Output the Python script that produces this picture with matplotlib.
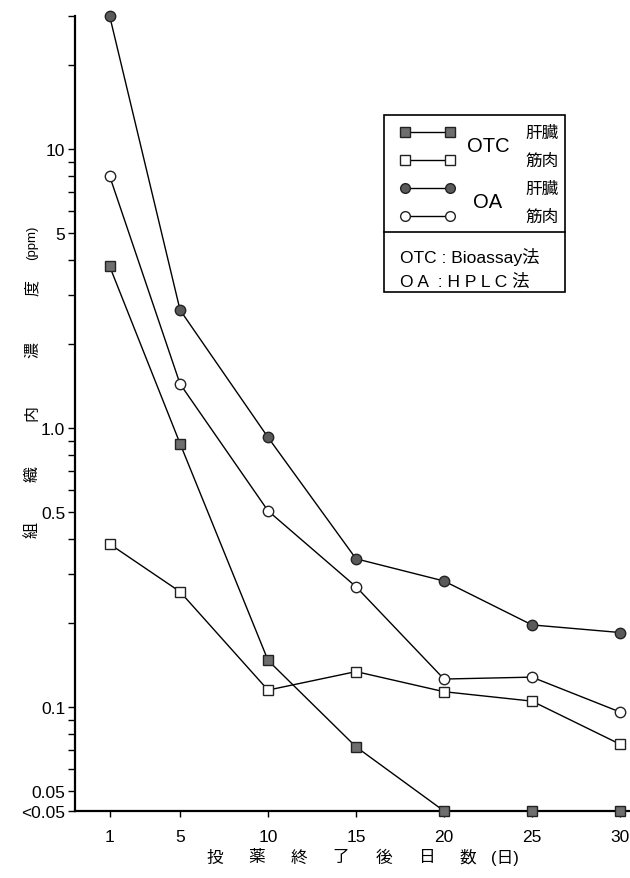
import numpy as np
import matplotlib
matplotlib.use('Agg')
import matplotlib.pyplot as plt
from matplotlib.lines import Line2D
from matplotlib.patches import Rectangle

plt.rcParams['font.family'] = ['Liberation Sans', 'Noto Sans CJK JP', 'DejaVu Sans']

# datos (ppm); "<0.05" se dibuja sobre el eje inferior
LT005 = 0.0424
days = [1, 5, 10, 15, 20, 25, 30]
otc_liver = [3.8, 0.88, 0.147, 0.072, LT005, LT005, LT005]
otc_muscle = [0.384, 0.259, 0.115, 0.134, 0.1135, 0.105, 0.0736]
oa_liver = [30.0, 2.65, 0.926, 0.34, 0.283, 0.197, 0.185]
oa_muscle = [8.0, 1.44, 0.505, 0.27, 0.126, 0.128, 0.096]

ytick_vals = [10, 5, 1.0, 0.5, 0.1, 0.05]
ytick_txt = ['10', '5', '1.0', '0.5', '0.1', '0.05']
xtick_txt = ['1', '5', '10', '15', '20', '25', '30']

W, H = 630, 879
fig = plt.figure(figsize=(6.3, 8.79), dpi=100)
ax = fig.add_axes([75 / W, 1 - 812 / H, (630 - 75) / W, (812 - 17) / H])

ax.set_yscale('log')
ax.set_ylim(LT005, 30)
ax.set_xlim(-0.97, 30.57)

fc_circ = '#5a5a5a'
fc_sq = '#6e6e6e'
ms = 7.5
kw = dict(color='black', lw=1.0, ms=ms, mew=1.0, mec='#222222', clip_on=False)
ax.plot(days, oa_liver, marker='o', mfc=fc_circ, zorder=3, **kw)
ax.plot(days, oa_muscle, marker='o', mfc='white', zorder=3, **kw)
ax.plot(days, otc_liver, marker='s', mfc=fc_sq, zorder=3, **kw)
ax.plot(days, otc_muscle, marker='s', mfc='white', zorder=3, **kw)

# ejes
for s in ['top', 'right']:
    ax.spines[s].set_visible(False)
for s in ['left', 'bottom']:
    ax.spines[s].set_linewidth(1.6)

minor = []
for dec in [0.01, 0.1, 1, 10]:
    for k in range(1, 10):
        v = k * dec
        if LT005 < v <= 30:
            minor.append(v)
allt = sorted(set(minor))
labels = []
for v in allt:
    lab = ''
    for tv, tt in zip(ytick_vals, ytick_txt):
        if abs(v - tv) < 1e-9:
            lab = tt
    labels.append(lab)
ax.yaxis.set_minor_locator(matplotlib.ticker.NullLocator())
ax.set_yticks(allt + [LT005])
ax.set_yticklabels(labels + ['<0.05'])
ax.tick_params(axis='y', direction='out', length=5, width=1.0, labelsize=12.5, pad=2)
ax.set_xticks(days)
ax.set_xticklabels(xtick_txt)
ax.tick_params(axis='x', direction='out', length=4, width=1.0, labelsize=12.5, pad=9)

# etiquetas de los ejes (caracteres espaciados)
ychars = ['組', '織', '内', '濃', '度', '(ppm)']
ypos = [530, 474, 413, 350, 288, 243]
for c, yp in zip(ychars, ypos):
    fig.text(32 / W, 1 - yp / H, c, rotation=90, ha='center', va='center',
             fontsize=11.5 if c != '(ppm)' else 9.5)

xchars = ['投', '薬', '終', '了', '後', '日', '数', '(日)']
xpos = [215, 257, 299, 341, 384, 426, 468, 505]
for c, xp in zip(xchars, xpos):
    fig.text(xp / W, 1 - 858 / H, c, ha='center', va='center', fontsize=12)

# leyenda dibujada a mano
def fx(x):
    return x / W

def fy(y):
    return 1 - y / H

fig.patches.append(Rectangle((fx(384), fy(293)), fx(565) - fx(384), fy(116) - fy(293),
                             transform=fig.transFigure, fill=False, lw=1.2,
                             ec='black', figure=fig))
fig.lines.append(Line2D([fx(384), fx(565)], [fy(233), fy(233)],
                        transform=fig.transFigure, color='black', lw=1.2))

rows = [(133, 's', fc_sq), (161, 's', 'white'), (189, 'o', fc_circ), (217, 'o', 'white')]
for ry, m, fc in rows:
    fig.lines.append(Line2D([fx(405), fx(450)], [fy(ry), fy(ry)], transform=fig.transFigure,
                            color='black', lw=1.0, marker=m, ms=7, mfc=fc, mec='#222222'))
fig.text(fx(488), fy(147), 'OTC', ha='center', va='center', fontsize=14.5)
fig.text(fx(488), fy(203), 'OA', ha='center', va='center', fontsize=14.5)
for ry, t in zip([133, 161, 189, 217], ['肝臓', '筋肉', '肝臓', '筋肉']):
    fig.text(fx(542), fy(ry), t, ha='center', va='center', fontsize=12)
fig.text(fx(400), fy(257), 'OTC : Bioassay法', ha='left', va='center', fontsize=12.5)
fig.text(fx(400), fy(282), 'O A  : H P L C 法', ha='left', va='center', fontsize=12.5)

fig.savefig('out.png', dpi=100)
